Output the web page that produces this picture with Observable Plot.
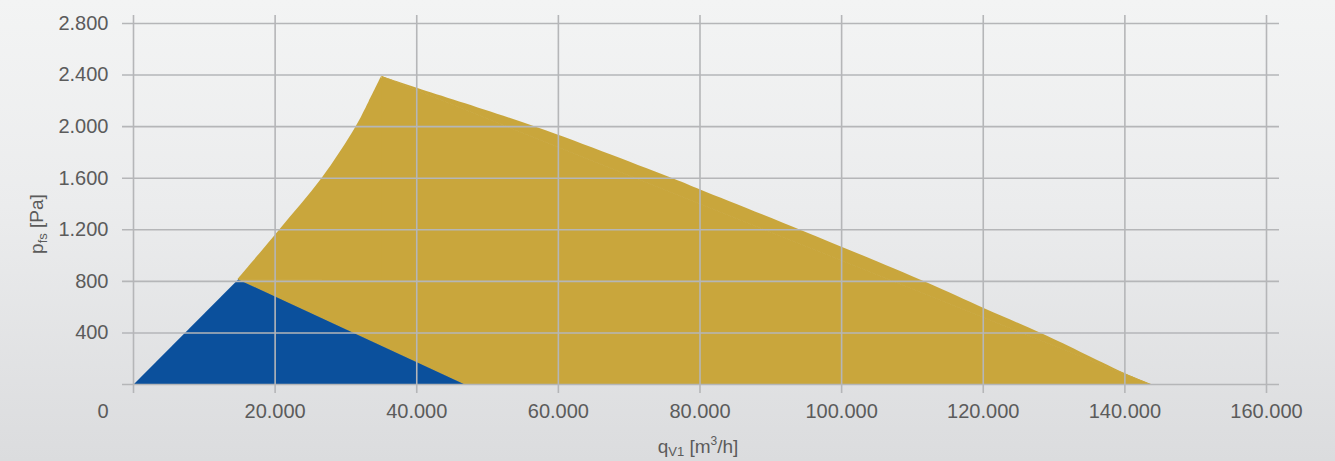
<!DOCTYPE html>
<html><head><meta charset="utf-8">
<script src="https://cdn.jsdelivr.net/npm/d3@7"></script>
<script src="https://cdn.jsdelivr.net/npm/@observablehq/plot@0.6"></script>
<style>
html,body{margin:0;padding:0;}
body{width:1335px;height:461px;overflow:hidden;background:linear-gradient(180deg,#f3f4f4 0%,#ebeced 45%,#dbdcde 100%);}
#chart svg{display:block;background:transparent;}
</style></head><body><div id="chart"></div>
<script>
// Operating range areas (q in m³/h, p in Pa)
const blueQ = [0, 14770, 46800];
const blueP = [0, 815, 0];
// gold area: left (system) curve from the blue peak up to the top corner
const goldLeftQ = [14770, 20600, 26600, 31400, 33250, 35050];
const goldLeftP = [815, 1195, 1595, 1995, 2190, 2390];
// gold area: right (fan) curve from the top corner down to the axis
const goldRightQ = [35050, 40100, 57000, 76300, 80100, 94400, 111900, 120200, 128300, 140100, 143700];
const goldRightP = [2390, 2300, 1995, 1595, 1510, 1195, 795, 590, 395, 85, 0];
const xTicks = [0, 20000, 40000, 60000, 80000, 100000, 120000, 140000, 160000];
const yTicks = [0, 400, 800, 1200, 1600, 2000, 2400, 2800];

const fmt = d3.formatLocale({decimal: ",", thousands: ".", grouping: [3], currency: ["", "€"]}).format(",");
const pts = (Q, P) => Q.map((q, i) => ({q, p: P[i]}));
const blue = pts(blueQ, blueP);
const left = pts(goldLeftQ, goldLeftP);
const right = pts(goldRightQ, goldRightP);
const top_ = right[0], peak = left[0], end = right[right.length - 1], blueEnd = blue[blue.length - 1];
// straight-edged core of the gold area (its inner edge stays inside the curved left fill)
const core = [top_, end, blueEnd, peak, {q: left[2].q, p: peak.p}];
const gold = "#c9a63c";
const gridColor = "#b5b6b8";

const plot = Plot.plot({
  width: 1335, height: 461,
  marginLeft: 133, marginRight: 69, marginTop: 23, marginBottom: 77,
  x: {domain: [0, 160000]},
  y: {domain: [0, 2800]},
  style: {fontFamily: "'Liberation Sans', Arial, sans-serif", fontSize: "20px", color: "#5b5b5b", background: "transparent"},
  marks: [
    Plot.line(core, {x: "q", y: "p", fill: gold, stroke: gold, strokeWidth: 1, strokeLinejoin: "round"}),
    Plot.areaX(left, {y: "p", x1: "q", x2: top_.q, fill: gold, curve: "catmull-rom"}),
    Plot.line(right, {x: "q", y: "p", fill: gold, stroke: "none", curve: "catmull-rom"}),
    Plot.line(blue, {x: "q", y: "p", fill: "#0b509c", stroke: "none"}),
    Plot.ruleY(yTicks, {stroke: gridColor, strokeWidth: 1.6, insetLeft: -11, insetRight: -13}),
    Plot.ruleX(xTicks, {stroke: gridColor, strokeWidth: 1.6, insetTop: -8, insetBottom: -9}),
    Plot.axisX({ticks: xTicks.filter(d => d > 0), tickSize: 0, tickPadding: 19.5, tickFormat: fmt, label: null}),
    Plot.axisY({ticks: yTicks.filter(d => d > 0), tickSize: 0, tickPadding: 25, tickFormat: fmt, label: null}),
    Plot.text(yTicks.filter(d => d === 0), {x: 0, y: d => d, text: d => fmt(d), dx: -25, dy: 19.5, textAnchor: "end", lineAnchor: "top", fill: "currentColor"})
  ]
});
document.getElementById("chart").appendChild(plot);

const svg = d3.select(plot);
const xl = svg.append("text").attr("x", 698).attr("y", 453).attr("text-anchor", "middle")
  .attr("fill", "#5b5b5b").style("font-size", "19px");
xl.append("tspan").text("q");
xl.append("tspan").attr("dy", 3).style("font-size", "13px").text("V1");
xl.append("tspan").attr("dy", -3).text(" [m");
xl.append("tspan").attr("dy", -8).style("font-size", "12px").text("3");
xl.append("tspan").attr("dy", 8).text("/h]");

const yl = svg.append("text").attr("transform", "translate(43,224) rotate(-90)").attr("text-anchor", "middle")
  .attr("fill", "#5b5b5b").style("font-size", "19px");
yl.append("tspan").text("p");
yl.append("tspan").attr("dy", 4).style("font-size", "13px").text("fs");
yl.append("tspan").attr("dy", -4).text(" [Pa]");
</script></body></html>
